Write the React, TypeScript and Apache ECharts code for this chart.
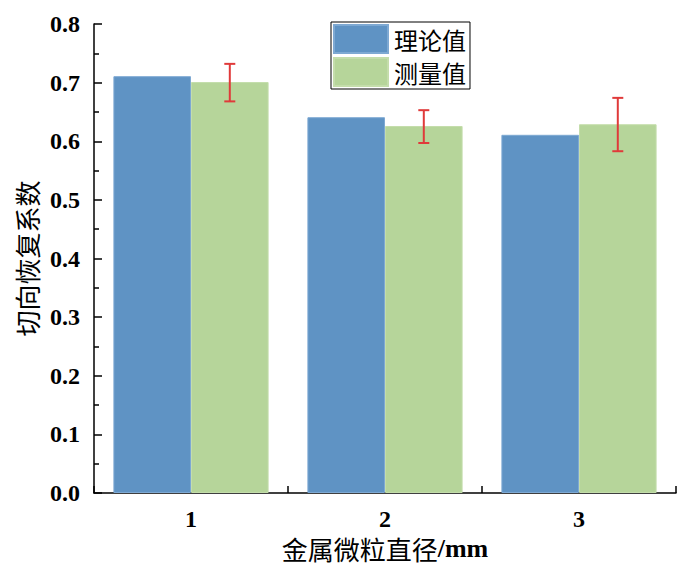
import React, { useEffect, useRef } from "react";
import * as echarts from "echarts";

const categories = ["1", "2", "3"];
const theoryValues = [0.711, 0.641, 0.611];
const measuredValues = [0.701, 0.626, 0.629];
const errLow = [0.668, 0.597, 0.583];
const errHigh = [0.732, 0.653, 0.674];
const seriesNames = ["理论值", "测量值"];
const xName = "金属微粒直径";
const xUnit = "/mm";
const yName = "切向恢复系数";

const serif = "'Liberation Serif', 'Times New Roman', serif";
const cjk = "'Noto Sans CJK SC', sans-serif";

export default function App() {
  const ref = useRef<HTMLDivElement>(null);
  useEffect(() => {
    if (!ref.current) return;
    const chart = echarts.init(ref.current, null, { renderer: "svg" });
    const errData = categories.map((_, i) => [i, errLow[i], errHigh[i]]);
    chart.setOption({
      animation: false,
      backgroundColor: "#ffffff",
      grid: { left: 94, right: 24, top: 24, bottom: 78, containLabel: false, outerBoundsMode: "none" },
      legend: {
        orient: "vertical",
        left: 331,
        top: 22,
        itemWidth: 54,
        itemHeight: 28,
        itemGap: 3,
        padding: [2, 4, 2, 2],
        borderColor: "#000",
        borderWidth: 1,
        icon: "rect",
        data: seriesNames,
        textStyle: { fontSize: 24, color: "#000", fontFamily: cjk, fontWeight: "normal", padding: [0, 0, 0, 1] },
      },
      xAxis: [
        {
          type: "category",
          data: categories,
          boundaryGap: true,
          name: `{a|${xName}}{b|${xUnit}}`,
          nameLocation: "middle",
          nameGap: 40,
          nameTextStyle: {
            rich: {
              a: { fontSize: 26, color: "#000", fontFamily: cjk, fontWeight: "normal" },
              b: { fontSize: 26, color: "#000", fontFamily: serif, fontWeight: "bold" },
            },
          },
          axisLine: { onZero: false, lineStyle: { color: "#000", width: 1.5 } },
          axisTick: { show: true, inside: true, length: 7, lineStyle: { color: "#000", width: 1.5 } },
          axisLabel: { fontSize: 24, color: "#000", fontFamily: serif, fontWeight: "bold", margin: 14 },
          splitLine: { show: false },
        },
        {
          type: "category",
          data: categories,
          position: "bottom",
          boundaryGap: true,
          axisLine: { show: false, onZero: false },
          axisTick: { show: true, inside: true, alignWithLabel: true, length: 7, lineStyle: { color: "#000", width: 1.5 } },
          axisLabel: { show: false },
          splitLine: { show: false },
        },
      ],
      yAxis: {
        type: "value",
        min: 0,
        max: 0.8,
        interval: 0.1,
        name: yName,
        nameLocation: "middle",
        nameGap: 53,
        nameTextStyle: { fontSize: 26, color: "#000", fontFamily: cjk, fontWeight: "normal" },
        axisLine: { show: true, lineStyle: { color: "#000", width: 1.5 } },
        axisTick: { show: true, inside: true, length: 8, lineStyle: { color: "#000", width: 1.5 } },
        minorTick: { show: true, splitNumber: 2, length: 5, lineStyle: { color: "#000", width: 1.5 } },
        axisLabel: {
          fontSize: 24,
          color: "#000",
          fontFamily: serif,
          fontWeight: "bold",
          margin: 14,
          formatter: (v: number) => v.toFixed(1),
        },
        splitLine: { show: false },
      },
      series: [
        {
          name: seriesNames[0],
          type: "bar",
          data: theoryValues,
          barWidth: "40%",
          barGap: "0%",
          itemStyle: { color: "#5f93c4", borderColor: "#7ea9d3", borderWidth: 1 },
        },
        {
          name: seriesNames[1],
          type: "bar",
          data: measuredValues,
          barWidth: "40%",
          barGap: "0%",
          itemStyle: { color: "#b6d59a", borderColor: "#c4ddab", borderWidth: 1 },
        },
        {
          type: "custom",
          name: "err",
          data: errData,
          z: 10,
          renderItem: (params: any, api: any) => {
            const idx = api.value(0);
            const lo = api.coord([idx, api.value(1)]);
            const hi = api.coord([idx, api.value(2)]);
            const bw = api.size([1, 0])[0];
            const x = lo[0] + bw * 0.2;
            const cap = 5.5;
            const style = { stroke: "#e03a3a", lineWidth: 2 };
            return {
              type: "group",
              children: [
                { type: "line", shape: { x1: x, y1: hi[1], x2: x, y2: lo[1] }, style },
                { type: "line", shape: { x1: x - cap, y1: hi[1], x2: x + cap, y2: hi[1] }, style },
                { type: "line", shape: { x1: x - cap, y1: lo[1], x2: x + cap, y2: lo[1] }, style },
              ],
            };
          },
        },
      ],
    });
    return () => chart.dispose();
  }, []);
  return <div ref={ref} style={{ width: 700, height: 571, position: "absolute", left: 0, top: 0 }} />;
}
